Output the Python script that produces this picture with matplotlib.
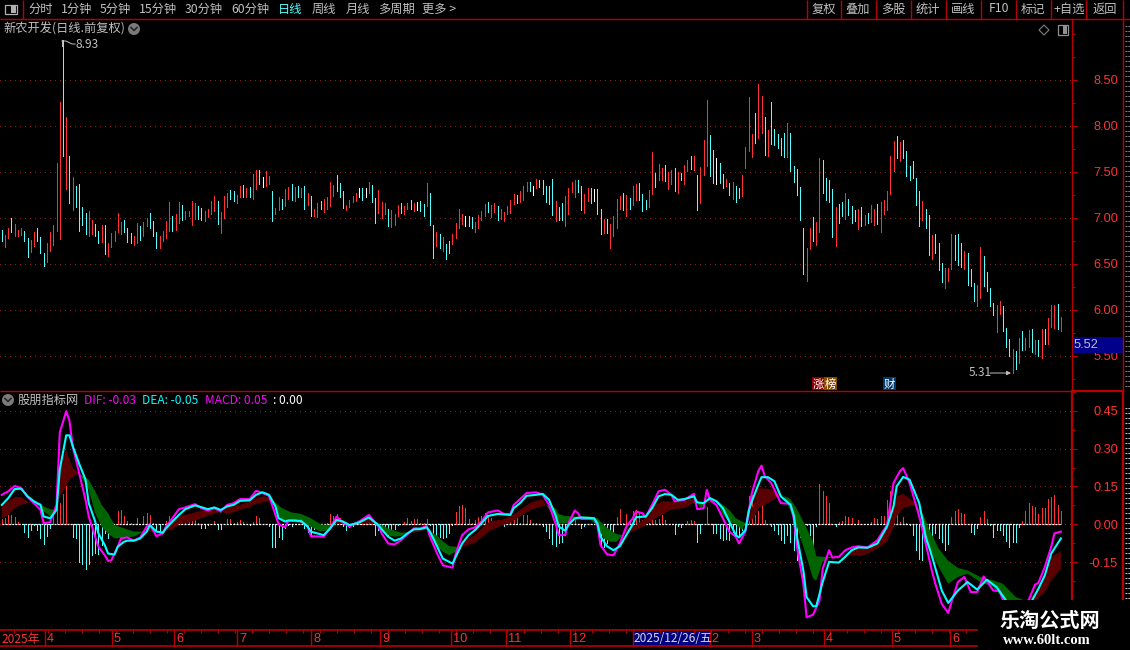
import numpy as np
import matplotlib
matplotlib.use('Agg')
import matplotlib.pyplot as plt
from matplotlib.patches import Circle, Rectangle, Polygon

plt.rcParams['font.family'] = ['Noto Sans CJK SC', 'DejaVu Sans']

# daily bars, one high / low / colour per session
highs = [6.87,6.81,6.89,7.00,6.93,6.87,6.89,6.86,6.78,6.76,
         6.85,6.89,6.79,6.62,6.73,6.85,6.92,7.59,8.26,8.93,
         8.09,7.67,7.44,7.34,7.37,7.12,7.05,7.07,6.97,6.93,
         6.86,6.92,6.92,6.72,6.83,6.86,7.05,6.95,6.98,6.89,
         6.83,6.80,6.94,6.91,6.95,7.00,7.05,6.96,6.84,6.80,
         6.86,6.96,7.17,7.02,7.04,7.17,7.14,7.07,7.07,7.18,
         7.16,7.13,7.11,7.07,7.10,7.18,7.24,7.18,7.06,7.24,
         7.27,7.30,7.29,7.25,7.34,7.36,7.32,7.33,7.47,7.52,
         7.52,7.44,7.51,7.45,7.29,7.11,7.23,7.20,7.31,7.33,
         7.37,7.33,7.34,7.32,7.35,7.27,7.24,7.10,7.16,7.18,
         7.20,7.22,7.39,7.36,7.46,7.38,7.29,7.14,7.19,7.24,
         7.27,7.32,7.32,7.32,7.39,7.36,7.21,7.30,7.17,7.16,
         7.10,7.08,7.04,7.14,7.16,7.13,7.16,7.19,7.16,7.17,
         7.18,7.15,7.38,7.27,6.92,6.85,6.82,6.79,6.71,6.75,
         6.82,6.94,7.09,7.04,7.02,7.02,7.01,6.95,7.03,7.07,
         7.15,7.17,7.14,7.16,7.13,7.10,7.06,7.13,7.19,7.26,
         7.25,7.29,7.35,7.39,7.39,7.35,7.42,7.41,7.41,7.34,
         7.34,7.42,7.18,7.12,7.16,7.24,7.32,7.39,7.41,7.41,
         7.34,7.26,7.32,7.32,7.31,7.31,7.10,6.99,6.99,6.93,
         7.02,7.20,7.24,7.27,7.25,7.21,7.34,7.37,7.38,7.26,
         7.19,7.30,7.71,7.49,7.58,7.54,7.57,7.50,7.52,7.54,
         7.50,7.49,7.57,7.63,7.67,7.67,7.46,7.55,7.85,8.28,
         7.90,7.74,7.65,7.60,7.47,7.42,7.38,7.39,7.35,7.32,
         7.46,7.77,8.31,7.91,8.14,8.45,8.32,8.09,7.95,8.26,
         7.96,7.91,7.87,7.92,8.03,7.92,7.56,7.53,7.33,6.89,
         6.67,6.89,7.01,6.95,7.65,7.63,7.43,7.41,7.31,7.12,
         7.15,7.17,7.27,7.20,7.13,7.08,7.10,7.12,7.03,7.05,
         7.14,7.10,7.15,7.17,7.19,7.29,7.67,7.83,7.89,7.82,
         7.84,7.72,7.56,7.62,7.43,7.29,7.18,7.09,7.03,6.81,
         6.82,6.72,6.51,6.45,6.45,6.82,6.81,6.82,6.72,6.64,
         6.62,6.44,6.29,6.27,6.68,6.58,6.41,6.24,6.07,6.05,
         6.10,6.04,5.80,5.68,5.57,5.55,5.69,5.77,5.69,5.78,
         5.79,5.67,5.67,5.79,5.79,5.91,6.05,6.05,6.06,5.92]
lows = [6.75,6.68,6.78,6.84,6.80,6.80,6.81,6.75,6.57,6.63,
        6.69,6.75,6.62,6.47,6.52,6.64,6.70,6.86,6.77,7.67,
        7.31,7.16,7.08,7.12,6.86,6.92,6.82,6.80,6.82,6.80,
        6.72,6.74,6.61,6.58,6.68,6.75,6.84,6.82,6.84,6.74,
        6.72,6.70,6.72,6.76,6.80,6.91,6.89,6.80,6.67,6.67,
        6.75,6.78,6.86,6.86,6.87,6.94,6.97,6.99,7.02,6.92,
        6.99,6.99,6.97,6.96,7.01,7.04,7.07,6.93,6.83,7.00,
        7.12,7.20,7.18,7.16,7.23,7.22,7.22,7.23,7.20,7.31,
        7.37,7.33,7.35,7.37,6.96,7.04,7.08,7.10,7.13,7.20,
        7.19,7.18,7.23,7.23,7.10,7.14,7.02,7.02,7.01,7.10,
        7.06,7.10,7.13,7.24,7.29,7.22,7.11,7.08,7.12,7.17,
        7.18,7.22,7.19,7.22,7.27,7.17,6.94,7.05,7.00,7.04,
        6.91,6.90,6.92,7.02,7.05,7.04,7.09,7.09,7.07,7.08,
        7.07,7.02,7.13,6.92,6.56,6.69,6.67,6.64,6.55,6.62,
        6.71,6.78,6.89,6.93,6.91,6.91,6.89,6.85,6.89,6.97,
        7.02,7.06,7.01,7.06,6.97,6.99,6.96,7.04,7.05,7.15,
        7.16,7.17,7.19,7.29,7.29,7.25,7.32,7.33,7.26,7.17,
        7.15,7.03,6.96,6.97,6.97,6.91,7.04,7.28,7.22,7.28,
        7.08,7.05,7.18,7.16,7.18,7.04,6.82,6.83,6.83,6.67,
        6.80,6.89,7.10,7.08,7.02,7.09,7.14,7.19,7.19,7.07,
        7.10,7.12,7.26,7.33,7.41,7.41,7.40,7.31,7.37,7.29,
        7.27,7.41,7.37,7.51,7.53,7.52,7.08,7.16,7.46,7.56,
        7.45,7.38,7.37,7.38,7.32,7.34,7.25,7.20,7.17,7.21,
        7.24,7.54,7.72,7.66,7.81,7.87,7.92,7.68,7.67,7.80,
        7.79,7.76,7.68,7.66,7.66,7.51,7.39,7.25,6.97,6.39,
        6.31,6.66,6.75,6.70,6.85,7.27,7.19,7.17,6.79,6.69,
        6.94,7.02,6.99,7.03,6.94,6.96,6.88,6.91,6.92,6.94,
        6.95,6.92,6.93,6.85,7.04,7.08,7.26,7.51,7.65,7.62,
        7.65,7.45,7.41,7.43,7.14,6.91,6.97,6.89,6.60,6.55,
        6.62,6.43,6.30,6.24,6.31,6.44,6.54,6.49,6.46,6.44,
        6.27,6.26,6.10,6.04,6.13,6.26,6.20,6.04,5.94,5.76,
        5.95,5.77,5.59,5.50,5.31,5.36,5.42,5.56,5.56,5.60,
        5.54,5.52,5.50,5.47,5.63,5.63,5.81,5.80,5.79,5.77]
bar_colors = ("crrcrrrccr" "rcccrrrrrc" "rcrccccrrc" "crcrrrrrcc" "crrcrrcccr"
              "rrrcrrcrrr" "rccrrrrcrr" "rccrrcrcrr" "cwrrcrrcrr" "crcrcrcrrc"
              "rrrrcccrrr" "rwcwrccrrr" "crrrcrrcrw" "ccrccrcrcc" "rrrrwccrrr"
              "rcrrcrrrrr" "crrrcwrccc" "ccrccrrrrc" "crrcwccrcr" "rrrcrcrrcc"
              "crrcrrcrrc" "rcrrcrcrrr" "ccwccrcrcc" "rrrrcrrcrc" "ccccrccccc"
              "rrcrrccccr" "ccrcccrcrc" "rrcrrrrrcr" "ccccccrccr" "cccrrrcccr"
              "cccrrccccr" "rcccrcrcrr" "crcrcrrrcr")

# MACD histogram, one value per session
macd_hist = [.02,.024,.035,.035,.028,.008,0,-.029,-.049,-.021,
             -.004,-.024,-.056,-.079,-.045,-.013,.037,.071,.084,.121,
             .153,0,-.049,-.056,-.149,-.156,-.176,-.156,-.123,-.113,
             -.116,-.083,-.033,-.056,-.009,0,.051,.055,.031,.013,
             .004,0,.024,0,.031,.044,.037,.007,-.023,-.029,
             0,.015,.031,.017,.033,.015,.024,.013,.013,.015,
             .017,.004,-.013,-.013,-.003,0,.013,-.019,-.019,0,
             .021,.021,.007,.011,.017,.011,0,-.003,.011,.033,
             .024,0,0,-.007,-.089,-.092,-.049,-.06,-.016,-.003,
             -.007,0,0,0,-.016,-.029,-.047,-.02,-.02,-.003,
             0,.007,.041,.033,.041,.024,-.007,-.023,-.012,-.007,
             .004,.011,.011,.02,.033,.007,-.043,-.023,-.02,-.023,
             -.043,-.02,-.02,-.003,0,.011,.024,.013,.021,.021,
             .004,.004,.021,-.003,-.036,-.043,-.049,-.056,-.049,-.036,
             -.003,.047,.073,.077,.064,.02,.004,.017,.028,.031,
             .044,.028,.024,.011,.017,.007,-.007,0,.017,.017,
             .024,.004,.037,.037,.017,.007,.004,0,-.007,-.025,
             -.056,-.08,-.085,-.076,-.069,-.036,-.003,0,.017,0,
             -.016,-.007,0,0,0,-.016,-.089,-.092,-.076,-.063,
             -.049,.028,.06,.004,.041,.011,.053,.055,.047,.017,
             .004,.004,.033,.017,.02,.037,.017,0,0,-.039,
             -.007,-.012,0,.015,.017,.015,-.069,-.036,0,.068,
             0,-.033,-.036,-.056,-.063,-.06,-.063,-.029,-.043,-.049,
             -.023,-.003,.113,.117,.037,.051,.075,.017,0,-.005,
             -.023,-.04,-.063,-.073,-.043,-.069,-.103,-.143,-.049,-.023,
             -.003,-.043,-.083,-.007,.161,.133,.113,.084,0,-.007,
             .008,.013,.031,.028,.024,.001,.017,0,0,0,
             .011,.024,.021,.031,.033,.097,.131,.084,.084,.011,
             .028,.004,-.003,-.043,-.103,-.136,-.143,-.069,-.063,-.043,
             -.036,-.056,-.069,-.103,-.079,.028,.051,.06,.044,.041,
             0,-.029,-.04,-.016,.028,.051,.021,-.003,-.049,-.023,
             -.023,-.043,-.065,-.089,-.069,-.069,-.009,.013,.051,.084,
             .073,.067,.041,.064,.064,.1,.108,.117,.075,.051]

# DIF / DEA read at the bends of each curve
dif_idx = [0,2,4,6,8,10,12,13,15,17,18,20,21,22,24,26,27,29,30,32,33,34,36,37,39,41,43,45,46,48,
           50,51,53,55,57,60,62,64,66,68,70,72,74,77,79,81,83,85,86,88,89,91,93,95,96,100,102,104,106,108,
           111,114,117,118,120,122,124,126,128,130,132,133,135,137,140,141,143,145,147,149,151,154,156,158,159,161,163,166,168,170,
           172,173,175,176,178,179,180,184,185,186,188,190,192,194,196,197,199,200,202,204,206,208,209,212,215,216,218,219,220,222,
           224,226,228,229,231,232,233,235,236,237,239,240,242,245,246,247,249,250,252,254,255,257,258,260,262,264,266,269,272,275,
           277,279,280,282,285,287,289,290,292,294,295,297,299,301,303,305,308,310,311,314,317,319,321,322,324,326,327,329]
dif = [.117,.131,.152,.144,.108,.084,.057,.004,.008,.077,.364,.449,.411,.311,.204,.097,.031,-.049,-.089,-.123,-.145,-.143,-.089,-.056,-.052,-.065,-.052,-.009,0,-.047,
       -.036,-.009,.024,.06,.067,.08,.064,.055,.064,.051,.077,.084,.1,.1,.133,.124,.113,.037,0,-.012,.015,.015,.011,-.009,-.047,-.049,-.016,.031,.007,-.009,
       .011,.037,-.009,-.036,-.076,-.08,-.063,-.04,-.016,-.016,-.007,-.049,-.109,-.163,-.172,-.116,-.043,-.02,-.012,.011,.047,.055,.041,.041,.077,.1,.124,.127,.117,.077,
       .004,-.043,-.043,.004,.055,.044,.021,.021,-.003,-.083,-.119,-.123,-.076,-.009,.024,.051,.044,.028,.077,.131,.137,.117,.091,.097,.121,.06,.064,.137,.097,.077,
       .024,-.029,-.049,-.076,-.029,.051,.124,.211,.233,.191,.164,.137,.084,.081,.024,-.089,-.236,-.369,-.359,-.303,-.176,-.103,-.132,-.129,-.103,-.092,-.087,-.092,-.063,-.003,
       .164,.211,.223,.164,.031,-.076,-.189,-.236,-.316,-.352,-.309,-.229,-.209,-.269,-.269,-.207,-.263,-.265,-.3,-.38,-.33,-.3,-.239,-.233,-.169,-.089,-.036,-.029]
dea_idx = [0,2,4,6,8,10,12,13,15,17,18,20,21,22,24,26,27,29,30,32,33,35,36,38,39,41,43,45,46,48,
           50,51,53,55,57,60,62,64,66,68,70,72,74,77,79,81,83,85,86,88,89,91,93,95,96,100,102,104,106,108,
           111,114,117,118,120,122,124,126,128,130,132,133,135,137,140,141,143,145,147,149,151,154,158,159,161,163,166,168,170,172,
           173,175,176,178,180,184,185,186,188,190,192,194,196,197,200,202,204,206,208,210,212,215,216,218,220,222,224,226,228,229,
           231,232,233,235,236,238,240,242,245,246,247,249,250,252,253,255,257,260,262,264,266,269,272,275,277,278,280,282,285,287,
           289,292,294,297,300,303,306,309,312,315,320,322,324,326,329]
dea = [.077,.104,.14,.141,.111,.091,.077,.031,.024,.057,.217,.353,.353,.311,.241,.177,.084,.011,-.036,-.083,-.116,-.12,-.089,-.069,-.065,-.065,-.056,-.029,-.003,-.029,
       -.033,-.016,.011,.037,.06,.075,.068,.06,.067,.057,.071,.077,.093,.095,.117,.127,.117,.071,.024,.011,.015,.015,.013,-.009,-.029,-.043,-.016,.017,.011,-.003,
       .007,.027,-.003,-.02,-.049,-.065,-.056,-.036,-.02,-.019,-.012,-.029,-.083,-.136,-.156,-.129,-.076,-.043,-.023,.004,.033,.041,.037,.064,.084,.113,.117,.121,.097,.037,
       -.009,-.025,-.003,.024,.027,.024,.004,-.049,-.087,-.103,-.087,-.043,0,.028,.031,.064,.111,.12,.117,.097,.1,.111,.087,.084,.104,.091,.064,.011,-.043,-.052,
       -.023,.051,.091,.157,.187,.187,.171,.111,.077,.037,-.049,-.183,-.289,-.325,-.325,-.229,-.149,-.152,-.129,-.103,-.092,-.093,-.076,-.009,.071,.151,.188,.177,.084,-.049,
       -.129,-.263,-.312,-.263,-.229,-.259,-.22,-.249,-.303,-.343,-.303,-.256,-.203,-.116,-.056]

# the two edges of the coloured band
band_idx = [0,2,4,6,8,9,12,13,15,17,18,20,21,22,24,27,29,31,33,35,41,44,46,48,50,51,53,55,58,60,
            62,64,66,68,70,72,74,77,79,81,83,84,87,90,93,96,99,102,103,104,106,108,111,114,116,118,120,122,124,126,
            128,130,132,135,137,139,141,142,144,147,150,152,155,158,161,164,166,168,169,172,173,175,178,180,183,185,187,189,191,193,
            194,197,200,203,205,208,212,215,216,217,219,220,222,224,226,228,230,231,233,234,235,238,241,243,245,247,250,252,253,255,
            257,260,261,264,268,272,275,277,278,280,283,284,286,288,291,294,297,300,304,308,311,315,318,321,324,326,329]
band_fast = [.073,.091,.108,.108,.091,.081,.071,.051,.033,.057,.224,.295,.257,.224,.201,.137,.044,-.009,-.036,-.056,-.049,-.029,-.009,-.025,-.043,-.023,.011,.033,.041,.047,
             .055,.057,.06,.044,.064,.071,.077,.091,.104,.111,.108,.097,.015,.011,.004,-.009,-.029,-.023,-.003,.028,.011,0,.011,.024,.001,-.023,-.043,-.049,-.047,-.032,
             -.02,-.016,-.02,-.083,-.109,-.123,-.109,-.092,-.063,-.043,-.003,.013,.017,.031,.057,.084,.093,.1,.077,.024,.004,.004,.017,.021,.017,-.009,-.056,-.069,-.069,-.043,
             -.02,-.003,.024,.077,.091,.091,.095,.104,.087,.064,.087,.104,.097,.037,.011,.001,-.023,.004,.064,.097,.144,.141,.131,.113,.051,-.009,-.129,-.216,-.223,-.149,
             -.133,-.136,-.129,-.103,-.092,-.063,-.016,.077,.111,.121,.093,.075,.017,-.089,-.169,-.236,-.209,-.196,-.229,-.249,-.296,-.316,-.303,-.276,-.223,-.129,-.107]
band_slow = [.024,.037,.064,.077,.084,.081,.084,.071,.06,.057,.111,.151,.177,.188,.201,.177,.131,.077,.044,-.003,-.029,-.029,-.029,-.025,-.029,-.023,-.023,0,.007,.015,
             .024,.033,.041,.051,.041,.047,.057,.068,.081,.087,.091,.097,.064,.047,.041,.024,0,-.003,-.003,.001,.001,0,.001,.004,.001,-.003,-.016,-.025,-.033,-.032,
             -.033,-.029,-.02,-.043,-.067,-.087,-.089,-.092,-.087,-.073,-.043,-.023,-.007,.007,.031,.055,.064,.071,.077,.064,.041,.033,.031,.031,.031,.024,-.003,-.023,-.039,-.043,
             -.039,-.023,-.003,.024,.037,.06,.064,.084,.087,.084,.087,.084,.097,.077,.057,.024,.011,.004,.017,.037,.064,.084,.108,.113,.1,.06,-.016,-.069,-.127,-.129,
             -.129,-.132,-.129,-.123,-.123,-.096,-.069,-.012,.031,.064,.075,.075,.044,-.016,-.096,-.145,-.173,-.183,-.209,-.223,-.236,-.289,-.303,-.305,-.269,-.223,-.176]

price_ticks = [5.5, 6.0, 6.5, 7.0, 7.5, 8.0, 8.5]
price_minor = [5.25, 5.75, 6.25, 6.75, 7.25, 7.75, 8.25, 8.75, 9.0]
macd_ticks = [-0.15, 0.0, 0.15, 0.30, 0.45]
macd_minor = [-0.225, -0.075, 0.075, 0.225, 0.375, 0.525]
last_price = 5.52

RED = '#ff3232'
LINE_RED = '#b80000'
GRID_RED = '#8c2020'
CYAN = '#54ffff'
GREY = '#c0c0c0'
W, H = 1130, 650

fig = plt.figure(figsize=(W / 100, H / 100), dpi=100, facecolor='black')


def panel(top, bottom):
    ax = fig.add_axes([0, 1 - bottom / H, 1072 / W, (bottom - top) / H], facecolor='black')
    ax.set_xlim(-0.57, 332.45)
    ax.set_xticks([])
    for s in ['top', 'left', 'bottom']:
        ax.spines[s].set_visible(False)
    ax.spines['right'].set_color(LINE_RED)
    ax.spines['right'].set_linewidth(1.0)
    ax.yaxis.tick_right()
    ax.grid(axis='y', color=GRID_RED, linestyle=(0, (1, 5)), linewidth=0.72, antialiased=False)
    ax.set_axisbelow(True)
    ax.tick_params(axis='y', which='major', colors=LINE_RED, length=3.6, width=0.8,
                   labelcolor=RED, labelsize=9.2, pad=29.5)
    ax.tick_params(axis='y', which='minor', colors=LINE_RED, length=2.2, width=0.8)
    return ax


# price panel
ax1 = panel(19, 391)
ax1.set_ylim(8 - (391 - 125.7) / 92, 8 - (19 - 125.7) / 92)
ax1.set_yticks(price_ticks)
ax1.set_yticklabels(['%.2f' % t for t in price_ticks], ha='right', family=['Liberation Sans'])
ax1.set_yticks(price_minor, minor=True)
cmap = {'r': RED, 'c': CYAN, 'w': '#ffffff'}
x = np.arange(len(highs))
ax1.vlines(x, lows, highs, colors=[cmap[c] for c in bar_colors], linewidth=0.72, antialiased=False, zorder=3)

# MACD panel
ax2 = panel(391, 630)
ax2.set_ylim((524.3 - 630) / 252, (524.3 - 391) / 252)
ax2.set_yticks(macd_ticks)
ax2.set_yticklabels(['%.2f' % t for t in macd_ticks], ha='right', family=['Liberation Sans'])
ax2.set_yticks(macd_minor, minor=True)
ax2.spines['right'].set_linewidth(1.6)
hist = np.array(macd_hist)
hx = np.arange(len(hist))
ax2.vlines(hx, 0, hist, colors=[RED if v > 0 else CYAN for v in hist], linewidth=0.72, antialiased=False, zorder=2)
ax2.hlines(0, 0, hx[-1], colors='white', linewidth=0.9, linestyles=(0, (1.6, 1)), zorder=2.5)
fast = np.array(band_fast)
slow = np.array(band_slow)
ax2.fill_between(band_idx, fast, slow, where=fast >= slow, interpolate=True, color='#5a0000', linewidth=0, zorder=3)
ax2.fill_between(band_idx, fast, slow, where=fast <= slow, interpolate=True, color='#006400', linewidth=0, zorder=3)
ax2.plot(dif_idx, dif, color='#ff00ff', linewidth=1.5, zorder=4)
ax2.plot(dea_idx, dea, color='#00ffff', linewidth=1.5, zorder=5)

# everything around the panels, drawn in screen pixels
ov = fig.add_axes([0, 0, 1, 1], facecolor='none', zorder=10)
ov.set_xlim(0, W)
ov.set_ylim(H, 0)
ov.axis('off')


def txt(px, py, s, color=GREY, size=8.8, ha='left', **kw):
    ov.text(px, py, s, color=color, fontsize=size, ha=ha, va='center', **kw)


def hline(py, x0=0, x1=W, lw=1.0):
    ov.plot([x0, x1], [py, py], color=LINE_RED, linewidth=lw, solid_capstyle='butt')


def vline(px, y0, y1, lw=1.0):
    ov.plot([px, px], [y0, y1], color=LINE_RED, linewidth=lw, solid_capstyle='butt')


def chevron(px, py):
    ov.add_patch(Circle((px, py), 6, color='#7a7a7a', linewidth=0))
    ov.plot([px - 3, px, px + 3], [py - 1.5, py + 1.5, py - 1.5], color='#222222', linewidth=1.1)


# toolbar
hline(19)
vline(23, 0, 19)
ov.add_patch(Rectangle((5, 5), 12, 9, fill=False, edgecolor='#b0b0b0', linewidth=0.9))
ov.add_patch(Rectangle((11, 6), 5, 7, color='#b0b0b0', linewidth=0))
left_items = ['分时', '1分钟', '5分钟', '15分钟', '30分钟', '60分钟', '日线', '周线', '月线', '多周期', '更多 >']
left_x = [28, 61, 100, 139, 185, 231, 278, 312, 346, 378, 422]
for s, px in zip(left_items, left_x):
    txt(px, 9, s, color=CYAN if s == '日线' else GREY)
right_items = ['复权', '叠加', '多股', '统计', '画线', 'F10', '标记', '+自选', '返回']
right_x = [824, 858, 893, 928, 963, 999, 1033, 1069, 1105]
for s, px in zip(right_items, right_x):
    txt(px, 9, s, ha='center')
for px in [807, 841, 876, 911, 946, 981, 1016, 1051, 1086, 1123]:
    vline(px, 0, 19)

# title rows
txt(3, 29, '新农开发(日线.前复权)', size=8.8)
chevron(134, 29)
ov.add_patch(Polygon([(1044, 25), (1049, 30), (1044, 35), (1039, 30)], fill=False, edgecolor='#808080', linewidth=0.8))
ov.add_patch(Rectangle((1058, 25), 10, 10, fill=False, edgecolor='#909090', linewidth=0.9))
ov.add_patch(Rectangle((1063, 26), 4, 8, color='#909090', linewidth=0))

hline(391, 0, 1072, 1.0)
chevron(8, 400)
txt(18, 400, '股朋指标网', size=8.8)
txt(84, 400, 'DIF: -0.03', color='#ff00ff', size=8.6)
txt(142, 400, 'DEA: -0.05', color='#00ffff', size=8.6)
txt(205, 400, 'MACD: 0.05', color='#ff00ff', size=8.6)
txt(273, 400, ': 0.00', color='white', size=8.6)

# extreme labels
txt(76, 45, '8.93', size=8.6)
ov.plot([62, 66, 72, 75], [41, 41, 44, 44], color=GREY, linewidth=0.7)
ov.plot([62, 62], [40, 46], color=GREY, linewidth=0.7)
txt(969, 373, '5.31', size=8.6)
ov.annotate('', xy=(1011, 373), xytext=(990, 373),
            arrowprops=dict(arrowstyle='-|>', color=GREY, linewidth=0.7, mutation_scale=6, shrinkA=0, shrinkB=0))

# event tags
ov.add_patch(Rectangle((812, 377), 12, 13, color='#8b0000', linewidth=0))
ov.add_patch(Rectangle((824, 377), 13, 13, color='#8b4a00', linewidth=0))
ov.add_patch(Rectangle((883, 377), 13, 13, color='#003a70', linewidth=0))
txt(818, 384, '涨', color='white', size=8.2, ha='center')
txt(830.5, 384, '榜', color='white', size=8.2, ha='center')
txt(889.5, 384, '财', color='white', size=8.2, ha='center')

# last price box and right strip
ov.add_patch(Rectangle((1073, 337), 50, 16, color='#00008b', linewidth=0))
txt(1074, 345, '%.2f' % last_price, size=9.2, family=['Liberation Sans'])
vline(1123, 19, 391)
vline(1123, 391, 600, 1.6)
hline(391, 1073, 1123, 1.6)
# clipped side list at the right edge: only stubs of its rows show
for py in range(26, 390, 5):
    ov.plot([1125, 1130], [py, py], color='#8a8a8a', linewidth=0.7, dashes=(2, 1))
for py in range(408, 600, 5):
    ov.plot([1125, 1130], [py, py], color='#cfcfcf', linewidth=0.7, dashes=(2, 1))

# date strip
hline(630, 0, 978, 1.2)
hline(646, 0, 978, 1.2)
date_x = [46, 113, 175, 238, 312, 381, 452, 507, 571, 753, 825, 893, 951]
date_lbl = ['4', '5', '6', '7', '8', '9', '10', '11', '12', '3', '4', '5', '6']
txt(2, 639, '2025年', color=RED, size=8.6)
for px, s in zip(date_x, date_lbl):
    vline(px - 1, 630, 646)
    txt(px + 1, 639, s, color=RED, size=9.2, family=['Liberation Sans'])
for px in range(14, 978, 17):
    vline(px, 630, 633, 0.8)
ov.add_patch(Rectangle((633, 631), 77, 15, color='#000080', linewidth=0))
txt(634, 638, '2025/12/26/五', color='#d8d8d8', size=8.6)
vline(632.5, 630, 646)
vline(710, 630, 646)
txt(711, 639, '2', color=RED, size=9.2, family=['Liberation Sans'])

# site stamp
ov.add_patch(Rectangle((978, 600), W - 978, H - 600, color='black', linewidth=0))
txt(1050, 620, '乐淘公式网', color='white', size=14.5, ha='center', fontweight='bold')
txt(1047, 640, 'www.60lt.com', color='white', size=10.5, ha='center', fontweight='bold', family=['Liberation Serif'])

fig.savefig('out.png', dpi=100, facecolor='black')
